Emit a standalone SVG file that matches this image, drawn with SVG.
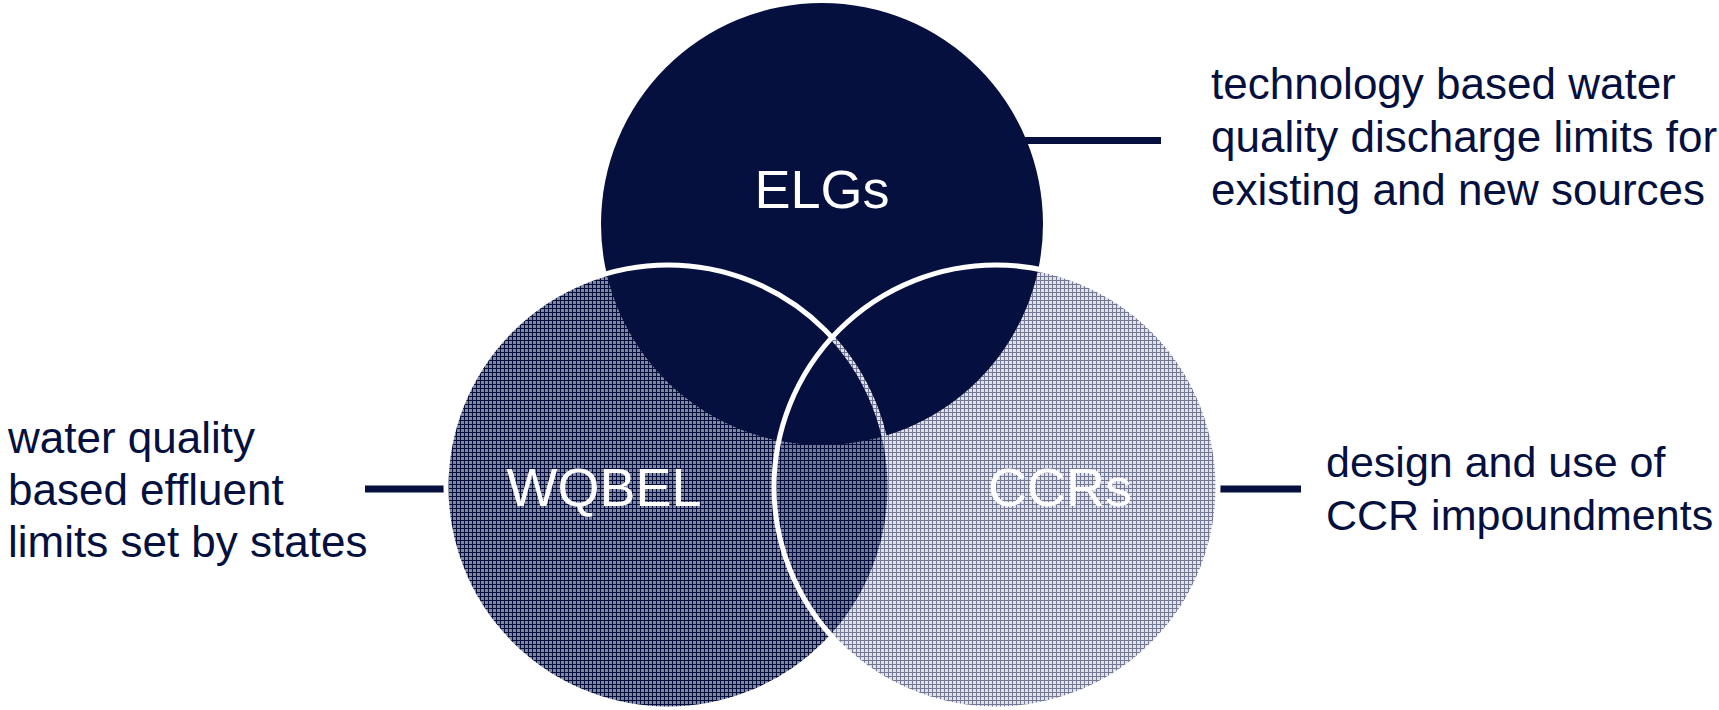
<svg xmlns="http://www.w3.org/2000/svg" width="1719" height="710" viewBox="0 0 1719 710">
  <defs>
    <!-- dense halftone grid for the left circle -->
    <pattern id="gridDense" x="0" y="0" width="4" height="4" patternUnits="userSpaceOnUse">
      <rect x="0" y="0" width="4" height="4" fill="#05103f" fill-opacity="0.5"/>
      <rect x="0" y="0" width="4" height="1" fill="#05103f"/>
      <rect x="0" y="1" width="1" height="3" fill="#05103f"/>
    </pattern>
    <!-- light halftone grid for the right circle -->
    <pattern id="gridLight" x="0" y="0" width="4" height="4" patternUnits="userSpaceOnUse">
      <rect x="0" y="0" width="4" height="4" fill="#05103f" fill-opacity="0.12"/>
      <rect x="0" y="0" width="4" height="1" fill="#05103f" fill-opacity="0.5"/>
      <rect x="0" y="1" width="1" height="3" fill="#05103f" fill-opacity="0.5"/>
    </pattern>
  </defs>
  <style>
    .label { font-family: "Liberation Sans", Arial, sans-serif; font-size: 54px; fill: #ffffff; text-anchor: middle; }
    .note { font-family: "Liberation Sans", Arial, sans-serif; font-size: 44px; fill: #05103f; }
    .note-sm { font-size: 43px; }
    .ring { stroke: #ffffff; stroke-width: 5; }
    .link { stroke: #05103f; stroke-width: 7; fill: none; }
  </style>
  <rect width="1719" height="710" fill="#ffffff"/>

  <g id="connectors">
    <line class="link" x1="1024" y1="140.5" x2="1161" y2="140.5"/>
    <line class="link" x1="365" y1="489" x2="445" y2="489"/>
    <line class="link" x1="1220" y1="489" x2="1301" y2="489"/>
  </g>

  <g id="elgs">
    <circle cx="822" cy="224" r="221" fill="#05103f"/>
    <text class="label" x="822" y="208">ELGs</text>
  </g>

  <g id="wqbel">
    <circle class="ring" cx="668" cy="487" r="222" fill="url(#gridDense)"/>
    <text class="label" x="604" y="506">WQBEL</text>
  </g>

  <g id="ccrs">
    <circle class="ring" cx="996" cy="487" r="222" fill="url(#gridLight)"/>
    <text class="label" x="1060" y="506">CCRs</text>
  </g>

  <g id="note-elgs">
    <text class="note" x="1211" y="99">technology based water</text>
    <text class="note" x="1211" y="152">quality discharge limits for</text>
    <text class="note" x="1211" y="205">existing and new sources</text>
  </g>

  <g id="note-wqbel">
    <text class="note" x="8" y="453">water quality</text>
    <text class="note" x="8" y="505">based effluent</text>
    <text class="note" x="8" y="557">limits set by states</text>
  </g>

  <g id="note-ccrs">
    <text class="note note-sm" x="1326" y="477">design and use of</text>
    <text class="note note-sm" x="1326" y="530">CCR impoundments</text>
  </g>
</svg>
